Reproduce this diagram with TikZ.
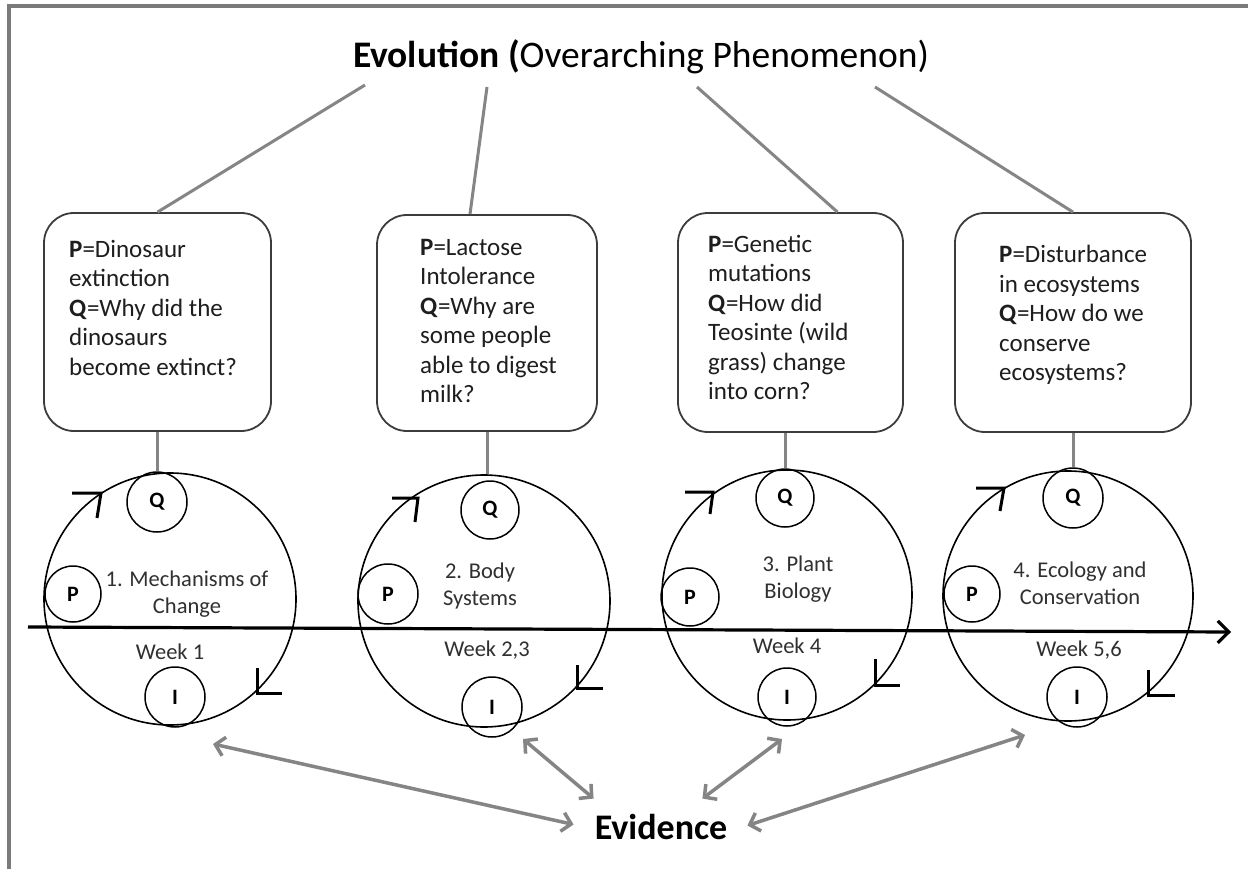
\documentclass[tikz,border=0pt]{standalone}
\usepackage{fontspec}
\setmainfont{Carlito}
\usetikzlibrary{arrows.meta,calc}
\definecolor{framegray}{HTML}{7A7A7A}
\definecolor{linegray}{HTML}{858585}
\definecolor{boxgray}{HTML}{3C3C3C}
\definecolor{txt}{HTML}{1E1E1E}
\definecolor{ctxt}{HTML}{303030}
\begin{document}
\begin{tikzpicture}[x=1pt,y=-1pt,
  frame/.style={draw=framegray,line width=4pt},
  topline/.style={draw=linegray,line width=3pt},
  stub/.style={draw=linegray,line width=3pt},
  qbox/.style={draw=boxgray,line width=1.8pt,rounded corners=30pt,inner sep=0pt},
  boxtext/.style={anchor=north west,align=left,inner sep=0pt,text=txt,font=\fontsize{25}{29.5}\selectfont},
  bigcirc/.style={circle,draw=black,line width=1.6pt,inner sep=0pt,minimum size=#1},
  smallcirc/.style={circle,draw=black,line width=1.5pt,inner sep=0pt,minimum size=#1,font=\bfseries\fontsize{22}{22}\selectfont},
  clabel/.style={anchor=north,align=center,inner sep=0pt,text=ctxt,font=\fontsize{22.5}{27}\selectfont},
  weeklabel/.style={anchor=base,inner sep=0pt,text=ctxt,font=\fontsize{22.5}{27}\selectfont},
  chevron/.style={draw=black,line width=3pt},
  timeline/.style={draw=black,line width=3.2pt,-{Straight Barb[length=11pt,width=22pt]}},
  evarrow/.style={draw=linegray,line width=3.5pt,{Straight Barb[length=9pt,width=19pt]}-{Straight Barb[length=9pt,width=19pt]}}
]
\useasboundingbox (0,0) rectangle (1248,869);
\fill[white] (0,0) rectangle (1248,869);
\draw[frame] (9,869) -- (9,6.5) -- (1248,6.5);

% title
\node[anchor=base,inner sep=0pt,text=black,font=\fontsize{37.5}{44}\selectfont] (title) at (641,68)
  {\textbf{Evolution (}Overarching Phenomenon)};
\coordinate (s1) at (365,85);
\coordinate (s2) at (487,87);
\coordinate (s3) at (697,87);
\coordinate (s4) at (875,87);

% boxes
\node[qbox,minimum width=227pt,minimum height=218pt] (b1) at (157.5,322) {};
\node[qbox,minimum width=220pt,minimum height=216pt] (b2) at (487,323) {};
\node[qbox,minimum width=225pt,minimum height=219pt] (b3) at (790.5,322.5) {};
\node[qbox,minimum width=236pt,minimum height=219pt] (b4) at (1073,322.5) {};

\node[boxtext] (t1) at (69,240) {\textbf{P}=Dinosaur\\extinction\\\textbf{Q}=Why did the\\dinosaurs\\become extinct?};
\node[boxtext] (t2) at (420,239) {\textbf{P}=Lactose\\Intolerance\\\textbf{Q}=Why are\\some people\\able to digest\\milk?};
\node[boxtext] (t3) at (708,235) {\textbf{P}=Genetic\\mutations\\\textbf{Q}=How did\\Teosinte (wild\\grass) change\\into corn?};
\node[boxtext] (t4) at (999,245) {\textbf{P}=Disturbance\\in ecosystems\\\textbf{Q}=How do we\\conserve\\ecosystems?};

\draw[topline] (s1) -- (b1.north);
\draw[topline] (s2) -- ($(b2.north)+(-17,0)$);
\draw[topline] (s3) -- ($(b3.north)+(47,0)$);
\draw[topline] (s4) -- (b4.north);

% big circles
\node[bigcirc=252pt] (C1) at (170,599) {};
\node[bigcirc=252pt] (C2) at (484,601) {};
\node[bigcirc=250pt] (C3) at (787,595) {};
\node[bigcirc=250pt] (C4) at (1068,596) {};

% small circles
\node[smallcirc=60pt] (q1) at (157,502) {Q};
\node[smallcirc=56pt] (p1) at (73,594) {P};
\node[smallcirc=60pt] (i1) at (175,697) {I};
\node[smallcirc=58pt] (q2) at (490,510) {Q};
\node[smallcirc=60pt] (p2) at (388,594) {P};
\node[smallcirc=60pt] (i2) at (492,707) {I};
\node[smallcirc=58pt] (q3) at (785,498) {Q};
\node[smallcirc=58pt] (p3) at (690,597) {P};
\node[smallcirc=58pt] (i3) at (787,697) {I};
\node[smallcirc=60pt] (q4) at (1073,498) {Q};
\node[smallcirc=56pt] (p4) at (972,594) {P};
\node[smallcirc=60pt] (i4) at (1077,697) {I};

% stubs
\draw[stub] (b1.south) -- (b1.south |- q1.north);
\draw[stub] (b2.south) -- (b2.south |- C2.north);
\draw[stub] (q3.north |- b3.south) -- (q3.north);
\draw[stub] (b4.south) -- (b4.south |- q4.north);

% circle labels
\node[clabel] (l1) at (187,571) {1. Mechanisms of\\Change};
\node[clabel] (l2) at (480,563) {2. Body\\Systems};
\node[clabel] (l3) at (798,556) {3. Plant\\Biology};
\node[clabel] (l4) at (1080,562) {4. Ecology and\\Conservation};

\node[weeklabel] (w1) at (170,659) {Week 1};
\node[weeklabel] (w2) at (487,656) {Week 2,3};
\node[weeklabel] (w3) at (787,653) {Week 4};
\node[weeklabel] (w4) at (1079,656) {Week 5,6};

% chevrons (cycle direction)
\draw[chevron] (72,493) -- (101,493) -- (97,518);
\draw[chevron] (257,668) -- (257,693) -- (282,693);
\draw[chevron] (392,498) -- (418,498) -- (415,522);
\draw[chevron] (577,665) -- (577,688) -- (603,688);
\draw[chevron] (685,492) -- (713,492) -- (710,514);
\draw[chevron] (875,659) -- (875,685) -- (900,685);
\draw[chevron] (976,488) -- (1004,488) -- (1000,511);
\draw[chevron] (1148,670) -- (1148,695) -- (1175,695);

% timeline
\coordinate (tl0) at (28,627);
\coordinate (tl1) at (1231,632);
\draw[timeline] (tl0) -- (tl1);

% evidence
\node[anchor=base,inner sep=0pt,text=black,font=\bfseries\fontsize{36}{40}\selectfont] (ev) at (661,839) {Evidence};
\coordinate (e1) at (213,744);
\coordinate (e2) at (523,739);
\coordinate (e3) at (782,739);
\coordinate (e4) at (1025,735);
\draw[evarrow] (e1) -- ($(ev.west)+(-21,-2)$);
\draw[evarrow] (e2) -- ($(ev.north west)+(-1,-15)$);
\draw[evarrow] (e3) -- ($(ev.north east)+(-25,-15)$);
\draw[evarrow] (e4) -- ($(ev.east)+(20,-1)$);
\end{tikzpicture}
\end{document}
